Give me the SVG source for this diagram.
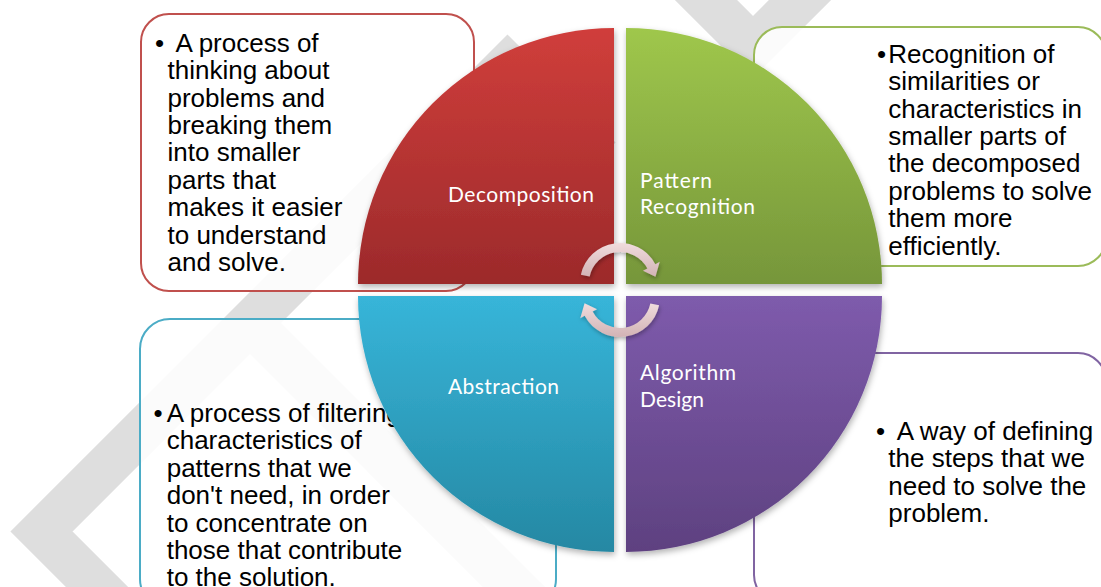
<svg xmlns="http://www.w3.org/2000/svg" width="1101" height="587" viewBox="0 0 1101 587">
<defs>
<style>
.wm{fill:none;stroke:#dedede;stroke-width:44;stroke-linejoin:miter;stroke-miterlimit:10}
.box{fill:#ffffff;fill-opacity:0.86;stroke-width:2}
.body{font-family:"Liberation Sans",Arial,sans-serif;font-size:26px;fill:#000}
.lbl{font-family:Lato,"Open Sans",sans-serif;font-size:21px;fill:#ffffff}
.arr{fill:url(#gArr);filter:url(#shA)}
.q{filter:url(#sh)}
</style>
<linearGradient id="gRed" x1="0" y1="0" x2="0" y2="1"><stop offset="0" stop-color="#d03e3b"/><stop offset="1" stop-color="#9c2a2b"/></linearGradient>
<linearGradient id="gGreen" x1="0" y1="0" x2="0" y2="1"><stop offset="0" stop-color="#9fc74c"/><stop offset="1" stop-color="#76963a"/></linearGradient>
<linearGradient id="gBlue" x1="0" y1="0" x2="0" y2="1"><stop offset="0" stop-color="#37b5d9"/><stop offset="1" stop-color="#2588a3"/></linearGradient>
<linearGradient id="gPurple" x1="0" y1="0" x2="0" y2="1"><stop offset="0" stop-color="#7e5bac"/><stop offset="1" stop-color="#5e4180"/></linearGradient>
<linearGradient id="gArr" x1="0" y1="0" x2="0" y2="1"><stop offset="0" stop-color="#f0dcdd"/><stop offset="1" stop-color="#d2b3b5"/></linearGradient>
<filter id="sh" x="-10%" y="-10%" width="125%" height="130%"><feDropShadow dx="1" dy="3" stdDeviation="3" flood-color="#000" flood-opacity="0.3"/></filter>
<filter id="shA" x="-20%" y="-20%" width="140%" height="150%"><feDropShadow dx="1" dy="2" stdDeviation="2" flood-color="#000" flood-opacity="0.3"/></filter>
</defs>
<rect width="1101" height="587" fill="#ffffff"/>
<g id="watermark">
<polyline class="wm" points="130,620 41.5,531.5 507.5,65.5 600,158"/>
<polyline class="wm" points="245,318 545,618"/>
<polyline class="wm" points="676,-30 753,47 830,-30"/>
</g>
<g id="box-decomposition">
<rect class="box" x="141" y="14" width="333" height="277" rx="28" stroke="#c0504d"/>
<text class="body" x="155" y="51.7">•</text>
<text class="body" x="175.5" y="51.7">A process of</text>
<text class="body" x="167.5" y="79.1">thinking about</text>
<text class="body" x="167.5" y="106.5">problems and</text>
<text class="body" x="167.5" y="133.9">breaking them</text>
<text class="body" x="167.5" y="161.3">into smaller</text>
<text class="body" x="167.5" y="188.7">parts that</text>
<text class="body" x="167.5" y="216.1">makes it easier</text>
<text class="body" x="167.5" y="243.5">to understand</text>
<text class="body" x="167.5" y="270.9">and solve.</text>
</g>
<g id="box-pattern">
<rect class="box" x="754" y="27" width="352" height="239" rx="28" stroke="#9bbb59"/>
<text class="body" x="877" y="62.7">•</text>
<text class="body" x="888.3" y="62.7">Recognition of</text>
<text class="body" x="888.3" y="90.1">similarities or</text>
<text class="body" x="888.3" y="117.5">characteristics in</text>
<text class="body" x="888.3" y="144.9">smaller parts of</text>
<text class="body" x="888.3" y="172.3">the decomposed</text>
<text class="body" x="888.3" y="199.7">problems to solve</text>
<text class="body" x="888.3" y="227.1">them more</text>
<text class="body" x="888.3" y="254.5">efficiently.</text>
</g>
<g id="box-abstraction">
<rect class="box" x="140" y="319" width="416" height="290" rx="30" stroke="#4bacc6"/>
<text class="body" x="153.5" y="421.7">•</text>
<text class="body" x="166.7" y="421.7">A process of filtering</text>
<text class="body" x="166.7" y="449.2">characteristics of</text>
<text class="body" x="166.7" y="476.6">patterns that we</text>
<text class="body" x="166.7" y="504.1">don't need, in order</text>
<text class="body" x="166.7" y="531.5">to concentrate on</text>
<text class="body" x="166.7" y="559">those that contribute</text>
<text class="body" x="166.7" y="586.4">to the solution.</text>
</g>
<g id="box-algorithm">
<rect class="box" x="754" y="353" width="352" height="250" rx="28" stroke="#8064a2"/>
<text class="body" x="876" y="440">•</text>
<text class="body" x="896.7" y="440">A way of defining</text>
<text class="body" x="888.3" y="467.4">the steps that we</text>
<text class="body" x="888.3" y="494.8">need to solve the</text>
<text class="body" x="888.3" y="522.2">problem.</text>
</g>
<g id="node-decomposition">
<path class="q" d="M614,284 L358,284 A256,256 0 0 1 614,28 Z" fill="url(#gRed)"/>
<text class="lbl" x="448" y="201.7" textLength="146">Decomposition</text>
</g>
<g id="node-pattern">
<path class="q" d="M626,284 L626,28 A256,256 0 0 1 882,284 Z" fill="url(#gGreen)"/>
<text class="lbl" x="640" y="188.3" textLength="72">Pattern</text>
<text class="lbl" x="640" y="214" textLength="115">Recognition</text>
</g>
<g id="node-abstraction">
<path class="q" d="M614,296 L614,552 A256,256 0 0 1 358,296 Z" fill="url(#gBlue)"/>
<text class="lbl" x="448" y="394" textLength="111">Abstraction</text>
</g>
<g id="node-algorithm">
<path class="q" d="M626,296 L882,296 A256,256 0 0 1 626,552 Z" fill="url(#gPurple)"/>
<text class="lbl" x="640" y="380" textLength="96">Algorithm</text>
<text class="lbl" x="640" y="406.7" textLength="64">Design</text>
</g>
<g id="connectors">
<path class="arr" d="M580.87,274.68 A40,40 0 0 1 655.32,264.22 L659.73,261.87 L655.45,276.75 L642.96,270.79 L647.37,268.45 A31,31 0 0 0 589.68,276.55 Z"/>
<path class="arr" d="M659.13,305.32 A40,40 0 0 1 584.68,315.78 L580.27,318.13 L584.55,303.25 L597.04,309.21 L592.63,311.55 A31,31 0 0 0 650.32,303.45 Z"/>
</g>
</svg>
